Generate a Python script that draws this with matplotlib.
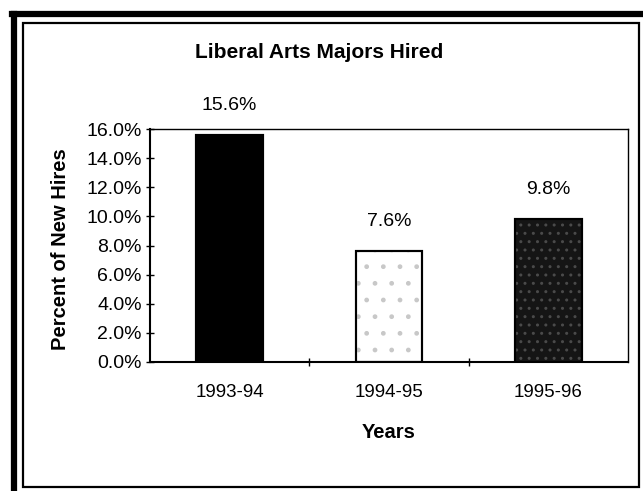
import matplotlib
matplotlib.use("Agg")
import matplotlib.pyplot as plt
from matplotlib.patches import Rectangle
from matplotlib.lines import Line2D
from matplotlib.ticker import FuncFormatter

categories = ["1993-94", "1994-95", "1995-96"]
values = [15.6, 7.6, 9.8]
value_labels = ["15.6%", "7.6%", "9.8%"]
y_ticks = [0, 2, 4, 6, 8, 10, 12, 14, 16]

plt.rcParams['font.family'] = ['Liberation Sans', 'DejaVu Sans']

W, H = 643, 491
fig = plt.figure(figsize=(W / 100, H / 100), dpi=100)
fig.patch.set_facecolor('white')

def fx(px):
    return px / W

def fy(py):
    return 1 - py / H

# page frame: thick outer lines (left/top) and thin inner rectangle
fig.add_artist(Line2D([fx(14), fx(14)], [fy(14), fy(491)], color='black', lw=4.5, transform=fig.transFigure))
fig.add_artist(Line2D([fx(12), fx(643)], [fy(14), fy(14)], color='black', lw=4.5, transform=fig.transFigure))
fig.add_artist(Rectangle((fx(23), fy(487)), fx(639) - fx(23), fy(23) - fy(487), fill=False,
                         edgecolor='black', lw=1.6, transform=fig.transFigure))

ax = fig.add_axes([fx(150), fy(362), fx(628) - fx(150), fy(129) - fy(362)])
x = list(range(len(categories)))
colors = ['black', 'white', '#151515']
ax.bar(x, values, width=0.42, color=colors, edgecolor='black', linewidth=1.5, zorder=2)
# texture overlays
ax.bar([x[1]], [values[1]], width=0.42, facecolor='none', edgecolor='#c8c8c8', hatch='. ', linewidth=0, zorder=3)
ax.bar([x[2]], [values[2]], width=0.42, facecolor='none', edgecolor='#4a4a4a', hatch='..', linewidth=0, zorder=3)
ax.bar(x, values, width=0.42, facecolor='none', edgecolor='black', linewidth=1.5, zorder=4)

for xi, v, lab in zip(x, values, value_labels):
    ax.annotate(lab, (xi, v), xytext=(0, 15), textcoords='offset points',
                ha='center', va='bottom', fontsize=14)

ax.set_xlim(-0.5, 2.5)
ax.set_ylim(0, 16)
ax.set_yticks(y_ticks)
ax.yaxis.set_major_formatter(FuncFormatter(lambda v, p: f"{v:.1f}%"))
ax.set_xticks(x)
ax.set_xticklabels(categories, fontsize=13.5)
ax.set_xticks([0.5, 1.5], minor=True)
ax.tick_params(axis='x', which='major', length=0, pad=16)
ax.tick_params(axis='x', which='minor', length=6, direction='inout', width=1)
ax.tick_params(axis='y', which='major', length=6, direction='inout', width=1, labelsize=14, pad=3)

for s in ax.spines.values():
    s.set_linewidth(1.5)
    s.set_color('black')
ax.spines['top'].set_linewidth(1.0)
ax.spines['right'].set_linewidth(1.0)

ax.set_xlabel("Years", fontsize=14.5, fontweight='bold', labelpad=16)
fig.text(fx(60), fy(249), "Percent of New Hires", rotation=90, ha='center', va='center',
         fontsize=14.5, fontweight='bold')
fig.text(fx(319), fy(52), "Liberal Arts Majors Hired", ha='center', va='center',
         fontsize=15, fontweight='bold')

fig.savefig("out.png", dpi=100, facecolor='white')
